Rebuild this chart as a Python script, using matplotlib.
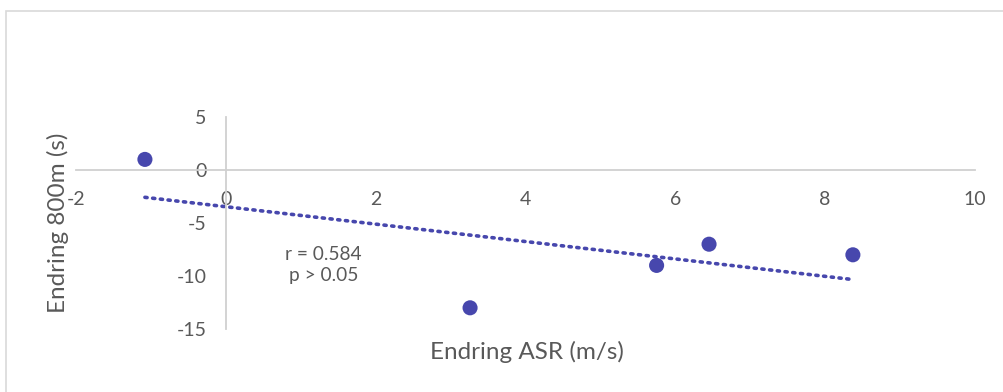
import numpy as np
import matplotlib
matplotlib.use("Agg")
import matplotlib.pyplot as plt
from matplotlib.patches import Rectangle

# Change in ASR (m/s) versus change in 800 m time (s)
endring_asr = [-1.08, 3.26, 5.75, 6.45, 8.37]
endring_800m = [1, -13, -9, -7, -8]
x_ticks = [-2, 0, 2, 4, 6, 8, 10]
y_ticks = [-15, -10, -5, 0, 5]

W, H = 1004, 392
fig = plt.figure(figsize=(W / 100, H / 100), dpi=100)
plt.rcParams['font.family'] = ['Lato', 'DejaVu Sans']

grey_text = '#595959'
axis_grey = '#D0D0D0'
point_col = '#4747AD'

# chart frame
fig.patches.append(Rectangle((6 / W, -0.05), 1.05, 1 - 11 / H + 0.05,
                             transform=fig.transFigure, fill=False,
                             edgecolor='#D9D9D9', linewidth=1.2))

left, right = 76 / W, 975 / W
bottom, top = 1 - 329 / H, 1 - 117 / H
ax = fig.add_axes([left, bottom, right - left, top - bottom])
ax.set_xlim(-2, 10)
ax.set_ylim(-15, 5)

for s in ['top', 'right']:
    ax.spines[s].set_visible(False)
ax.spines['left'].set_position(('data', 0))
ax.spines['bottom'].set_position(('data', 0))
for s in ['left', 'bottom']:
    ax.spines[s].set_color(axis_grey)
    ax.spines[s].set_linewidth(1.3)

ax.set_xticks(x_ticks)
ax.set_yticks(y_ticks)
ax.set_xticklabels([str(v) for v in x_ticks])
ax.set_yticklabels([str(v) for v in y_ticks])
ax.tick_params(axis='x', length=0, pad=15, labelsize=14, labelcolor=grey_text)
ax.tick_params(axis='y', length=0, pad=14, labelsize=14, labelcolor=grey_text)

# linear trend line
xa = np.array(endring_asr)
ya = np.array(endring_800m)
slope, intercept = np.polyfit(xa, ya, 1)
r = np.corrcoef(xa, ya)[0, 1]
xt = np.array([xa.min(), xa.max()])
ax.plot(xt, slope * xt + intercept, color=point_col, linestyle=(0, (0.6, 1.55)),
        linewidth=2.6, dash_capstyle='round', zorder=2)

ax.scatter(xa, ya, s=118, color=point_col, edgecolors='none', zorder=3)

ax.text(1.3, -9, f"r = {abs(r):.3f}\np > 0.05", ha='center', va='center',
        fontsize=13.8, color=grey_text, linespacing=1.3)

fig.text(527 / W, 1 - 352 / H, "Endring ASR (m/s)", ha='center', va='center',
         fontsize=17.5, color=grey_text)
fig.text(58 / W, 1 - 223 / H, "Endring 800m (s)", ha='center', va='center',
         rotation=90, fontsize=17.5, color=grey_text)

fig.savefig("out.png", dpi=100)
